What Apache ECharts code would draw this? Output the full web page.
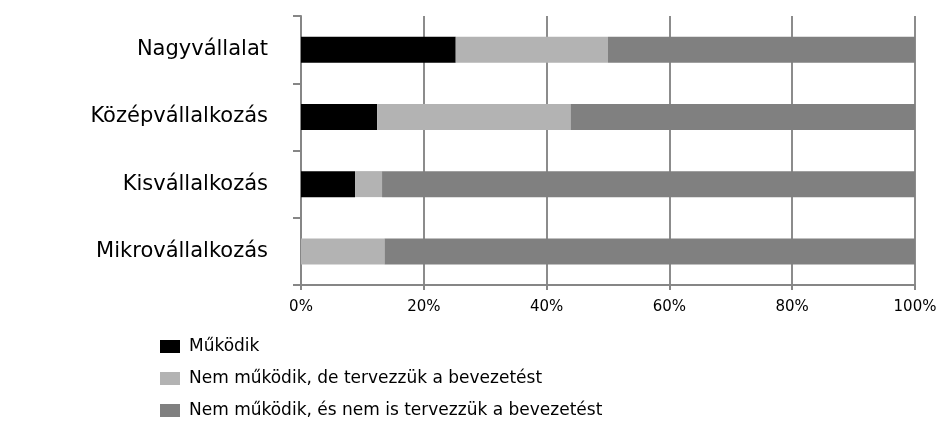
<!DOCTYPE html>
<html>
<head>
<meta charset="utf-8">
<script src="https://cdn.jsdelivr.net/npm/echarts@6/dist/echarts.min.js"></script>
<style>
  html, body { margin: 0; padding: 0; background: #fff; }
  #myChart { width: 949px; height: 421px; }
</style>
</head>
<body>
<div id="myChart"></div>
<script>
// kategóriák (felülről lefelé)
var categories = ["Nagyvállalat", "Középvállalkozás", "Kisvállalkozás", "Mikrovállalkozás"];
var seriesNames = [
  "Működik",
  "Nem működik, de tervezzük a bevezetést",
  "Nem működik, és nem is tervezzük a bevezetést"
];
// százalékos értékek
var mukodik = [25.2, 12.4, 8.8, 0];
var tervezzuk = [24.8, 31.5, 4.4, 13.6];
var nemTervezzuk = [50.0, 56.1, 86.8, 86.4];
var xTicks = [0, 20, 40, 60, 80, 100];

var colors = ["#000000", "#b3b3b3", "#808080"];
var font = "'DejaVu Sans', 'Open Sans', sans-serif";

var myChart = echarts.init(document.getElementById("myChart"));

function makeSeries(name, data, color) {
  return {
    name: name,
    type: "bar",
    stack: "total",
    data: data,
    barWidth: 26,
    itemStyle: { color: color },
    animation: false
  };
}

myChart.setOption({
  animation: false,
  grid: { left: 301, right: 34, top: 16, bottom: 136, containLabel: false },
  legend: {
    orient: "vertical",
    left: 160,
    top: 338,
    padding: 0,
    height: 90,
    itemWidth: 20,
    itemHeight: 13,
    itemGap: 15,
    icon: "rect",
    data: seriesNames,
    textStyle: { fontFamily: font, fontSize: 17, color: "#000", lineHeight: 14, padding: [0, 0, 0, 4] }
  },
  xAxis: {
    type: "value",
    min: 0,
    max: 100,
    interval: 20,
    axisLine: { show: true, lineStyle: { color: "#868686", width: 2 } },
    axisTick: { show: true, length: 5, lineStyle: { color: "#868686", width: 2 } },
    splitLine: { show: true, lineStyle: { color: "#8c8c8c", width: 2 } },
    axisLabel: {
      fontFamily: font,
      fontSize: 15,
      color: "#000",
      margin: 15,
      formatter: function (v) { return xTicks.indexOf(v) >= 0 ? v + "%" : ""; }
    }
  },
  yAxis: {
    type: "category",
    inverse: true,
    data: categories,
    axisLine: { show: true, lineStyle: { color: "#868686", width: 2 } },
    axisTick: { show: true, length: 8, alignWithLabel: false, lineStyle: { color: "#868686", width: 2 } },
    axisLabel: { fontFamily: font, fontSize: 21, color: "#000", margin: 33 }
  },
  series: [
    makeSeries(seriesNames[0], mukodik, colors[0]),
    makeSeries(seriesNames[1], tervezzuk, colors[1]),
    makeSeries(seriesNames[2], nemTervezzuk, colors[2])
  ]
});
</script>
</body>
</html>
